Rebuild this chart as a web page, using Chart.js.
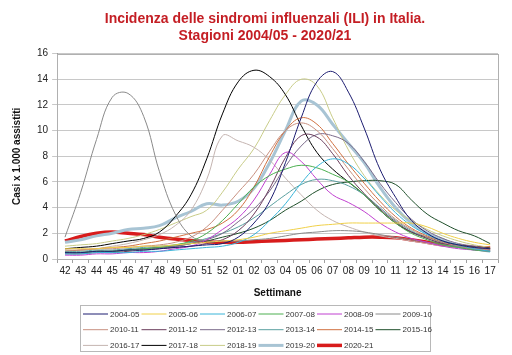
<!DOCTYPE html>
<html><head><meta charset="utf-8">
<script src="https://cdn.jsdelivr.net/npm/chart.js@4.4.0/dist/chart.umd.min.js"></script>
<style>html,body{margin:0;padding:0;background:#fff}</style>
</head><body>
<canvas id="c" width="512" height="355" style="display:block;width:512px;height:355px"></canvas>
<script>
const weeks = ['42','43','44','45','46','47','48','49','50','51','52','01','02','03','04','05','06','07','08','09','10','11','12','13','14','15','16','17'];
const seasonLabels = ['2004-05','2005-06','2006-07','2007-08','2008-09','2009-10','2010-11','2011-12','2012-13','2013-14','2014-15','2015-16','2016-17','2017-18','2018-19','2019-20','2020-21'];
const yTicks = [0,2,4,6,8,10,12,14,16];

const s0405 = [0.5,0.5,0.6,0.6,0.7,0.7,0.8,0.9,1.0,1.1,1.2,1.7,2.8,4.5,7.5,11.0,13.8,14.6,13.0,10.2,7.0,4.8,3.0,2.0,1.4,1.1,0.9,0.8];
const s0506 = [0.8,0.8,0.8,0.9,0.9,1.0,1.0,1.1,1.2,1.3,1.4,1.5,1.7,2.0,2.2,2.4,2.6,2.7,2.8,2.8,2.8,2.8,2.8,2.5,2.0,1.6,1.3,1.1];
const s0607 = [0.4,0.4,0.5,0.5,0.5,0.6,0.6,0.7,0.8,0.9,1.0,1.3,1.9,3.0,4.3,5.9,7.2,7.8,7.4,6.3,4.9,3.6,2.6,1.9,1.4,1.1,0.8,0.6];
const s0708 = [0.5,0.5,0.6,0.6,0.7,0.8,0.9,1.1,1.4,2.0,3.0,4.3,5.6,6.5,7.0,7.3,7.1,6.6,6.0,5.0,3.8,2.8,2.0,1.5,1.1,0.9,0.7,0.6];
const s0809 = [0.3,0.3,0.4,0.4,0.5,0.5,0.6,0.8,1.0,1.5,2.3,3.2,4.6,6.6,8.3,7.6,6.2,5.0,4.4,3.7,2.8,2.1,1.6,1.3,1.0,0.8,0.7,0.6];
const s0910 = [1.7,5.2,9.3,12.6,12.9,11.1,6.8,3.5,1.8,1.4,1.4,1.4,1.5,1.6,1.8,2.0,2.1,2.2,2.2,2.1,1.9,1.7,1.5,1.3,1.1,1.0,0.9,0.8];
const s1011 = [0.7,0.7,0.8,0.8,0.9,1.0,1.1,1.3,1.7,2.5,3.8,5.2,6.6,8.4,10.0,10.6,10.0,8.6,7.0,5.5,4.2,3.1,2.3,1.7,1.3,1.0,0.8,0.7];
const s1112 = [0.4,0.4,0.5,0.5,0.6,0.7,0.8,0.9,1.0,1.2,1.5,2.2,3.5,5.5,7.9,9.6,9.5,8.2,6.5,5.1,3.9,2.9,2.1,1.6,1.2,1.0,0.8,0.7];
const s1213 = [0.5,0.5,0.6,0.6,0.7,0.8,0.9,1.0,1.2,1.5,2.0,2.9,3.9,5.3,7.2,8.8,9.7,9.6,9.0,7.6,5.9,4.4,3.1,2.2,1.6,1.2,1.0,0.8];
const s1314 = [0.6,0.6,0.7,0.7,0.8,0.9,1.0,1.1,1.3,1.6,2.0,2.5,3.2,4.1,5.0,5.8,6.2,6.1,5.7,5.0,4.0,3.0,2.2,1.6,1.2,0.9,0.7,0.6];
const s1415 = [0.6,0.7,0.8,0.9,1.0,1.2,1.4,1.7,2.0,2.3,2.8,3.8,5.6,8.0,10.0,11.0,10.5,9.0,7.4,5.9,4.5,3.3,2.4,1.8,1.4,1.1,0.9,0.8];
const s1516 = [0.5,0.5,0.6,0.6,0.7,0.8,0.9,1.0,1.2,1.4,1.7,2.0,2.4,3.0,3.8,4.5,5.3,5.8,6.0,6.1,6.1,5.8,4.6,3.5,2.8,2.2,1.8,1.2];
const s1617 = [0.6,0.7,0.8,1.0,1.2,1.5,1.9,2.6,3.8,6.2,9.6,9.2,8.7,7.7,6.3,5.0,3.8,3.0,2.5,2.1,1.8,1.6,1.4,1.2,1.0,0.9,0.8,0.7];
const s1718 = [0.8,0.9,1.0,1.2,1.4,1.6,2.1,3.3,5.0,7.8,11.3,13.8,14.7,14.2,12.8,10.4,8.3,7.0,6.0,5.0,3.8,2.8,2.1,1.7,1.3,1.1,0.95,0.85];
const s1819 = [1.0,1.1,1.2,1.4,1.6,1.9,2.3,2.8,3.3,3.8,5.2,7.0,8.6,10.8,12.8,14.0,13.5,11.0,8.5,6.5,5.0,3.8,3.0,2.3,1.8,1.4,1.1,0.9];
const s1920 = [1.3,1.5,1.8,2.0,2.3,2.4,2.6,3.2,3.7,4.3,4.2,4.5,5.5,7.5,10.0,12.3,12.0,10.5,9.0,7.5,5.6,4.0,2.8,2.0,1.5,1.0,0.8,0.6];
const s2021 = [1.4,1.75,2.0,2.1,2.0,1.9,1.7,1.55,1.45,1.35,1.3,1.3,1.35,1.4,1.45,1.5,1.55,1.6,1.65,1.7,1.7,1.65,1.5,1.3,1.1,1.0,0.9,0.85];

const seriesValues = [s0405,s0506,s0607,s0708,s0809,s0910,s1011,s1112,s1213,s1314,s1415,s1516,s1617,s1718,s1819,s1920,s2021];
const colors = ['#1c1c70','#f0d048','#38b4d8','#4caf50','#c040d0','#8a8a8a','#c89080','#6a3d5c','#7a6a8a','#5aa0a0','#d07040','#1f4f2a','#c4b4b0','#000000','#c8cc88','#a8c4d4','#d81c1c'];
const widths = [1,1,1,1,1,1,1,1,1,1,1,1,1,1,1,3,3.5];

const FONT = 'Liberation Sans, Arial, sans-serif';
Chart.defaults.font.family = FONT;

const datasets = seasonLabels.map((lab, i) => ({
  label: lab,
  data: seriesValues[i],
  borderColor: colors[i],
  backgroundColor: colors[i],
  borderWidth: widths[i],
  pointRadius: 0,
  tension: 0.4,
  fill: false
}));

const frame = {
  id: 'frame',
  afterLayout(chart) {
    if (chart.titleBlock) { chart.titleBlock.left += 32; }
  },
  afterDraw(chart) {
    const {ctx, chartArea: a} = chart;
    ctx.save();
    ctx.strokeStyle = '#b0b0b0';
    ctx.lineWidth = 1;
    ctx.strokeRect(Math.round(a.left) + 0.5, Math.round(a.top) + 0.5, Math.round(a.right - a.left), Math.round(a.bottom - a.top));
    ctx.restore();
  }
};

const legendBox = {
  id: 'legendBox',
  afterDraw(chart) {
    const ctx = chart.ctx;
    const x0 = 80, y0 = 305, w = 350, h = 46;
    ctx.save();
    ctx.strokeStyle = '#b8b8b8';
    ctx.lineWidth = 1;
    ctx.strokeRect(x0 + 0.5, y0 + 0.5, w, h);
    ctx.font = '8px ' + FONT;
    ctx.textBaseline = 'middle';
    ctx.textAlign = 'left';
    chart.data.datasets.forEach((ds, i) => {
      const col = i % 6, row = Math.floor(i / 6);
      const x = 83 + col * 58.5, y = 314 + row * 15.7;
      ctx.strokeStyle = ds.borderColor;
      ctx.lineWidth = ds.borderWidth;
      ctx.beginPath(); ctx.moveTo(x, y); ctx.lineTo(x + 25, y); ctx.stroke();
      ctx.fillStyle = '#333';
      ctx.fillText(ds.label, x + 27, y + 0.5);
    });
    ctx.restore();
  }
};

new Chart(document.getElementById('c'), {
  type: 'line',
  data: { labels: weeks, datasets },
  plugins: [frame, legendBox],
  options: {
    responsive: false,
    animation: false,
    devicePixelRatio: 1,
    layout: { padding: { left: 0, right: 14, top: 0, bottom: 49 } },
    plugins: {
      legend: { display: false },
      tooltip: { enabled: false },
      title: {
        display: true,
        text: ['Incidenza delle sindromi influenzali (ILI) in Italia.', 'Stagioni 2004/05 - 2020/21'],
        color: '#c41e24',
        font: { size: 14, weight: 'bold', family: FONT },
        padding: { top: 11, bottom: 9 }
      }
    },
    scales: {
      x: {
        offset: true,
        grid: { display: true, drawOnChartArea: false, offset: true, tickLength: 4, color: '#a0a0a0' },
        border: { display: true, color: '#a0a0a0' },
        ticks: { color: '#222', font: { size: 10 }, padding: 2, maxRotation: 0, autoSkip: false },
        title: { display: true, text: 'Settimane', color: '#111', font: { size: 10, weight: 'bold' }, padding: { top: 8, bottom: 7 } }
      },
      y: {
        min: 0, max: 16,
        afterBuildTicks(scale) { scale.ticks = yTicks.map(v => ({ value: v })); },
        grid: { color: '#c8c8c8', tickLength: 5 },
        border: { display: true, color: '#a0a0a0' },
        ticks: { color: '#222', font: { size: 10 }, padding: 4 },
        title: { display: true, text: 'Casi x 1.000 assistiti', color: '#111', font: { size: 10, weight: 'bold' }, padding: { top: 11, bottom: 10 } }
      }
    }
  }
});
</script>
</body></html>
